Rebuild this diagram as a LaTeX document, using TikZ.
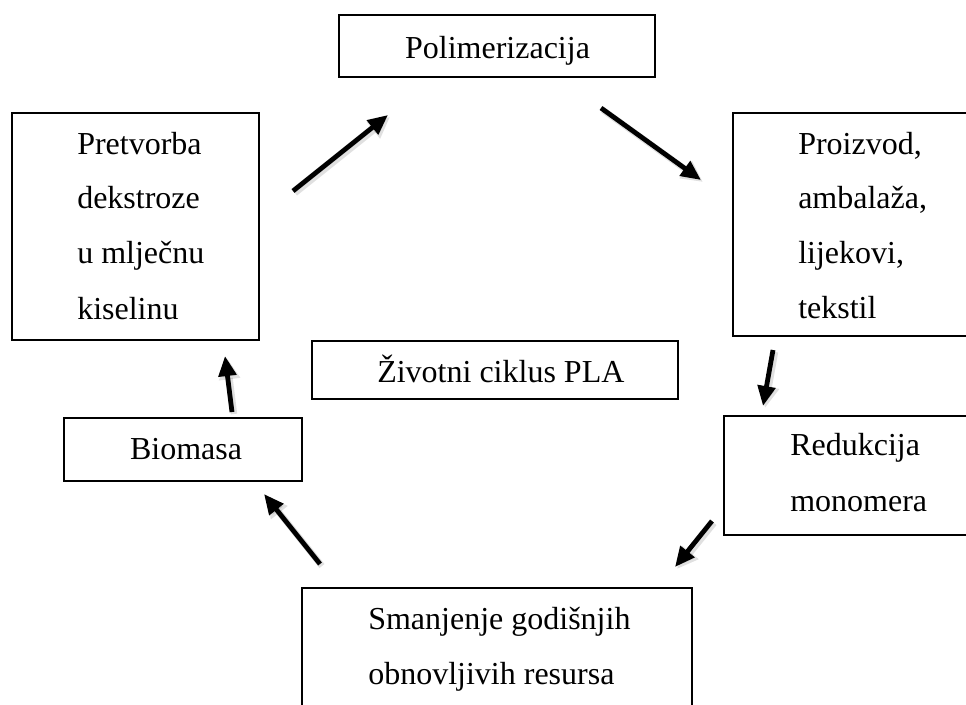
\documentclass[tikz,border=0pt]{standalone}
\usepackage{fontspec}
\setmainfont{Liberation Serif}
\usetikzlibrary{arrows.meta}
\tikzset{
  box/.style={draw=black, line width=1.3pt, fill=none},
  txt/.style={inner sep=0pt, font=\fontsize{24}{29}\selectfont},
  flow/.style={line width=3.6pt, -{Triangle[length=15pt,width=13pt]}, black},
  flowshadow/.style={line width=4.8pt, -{Triangle[length=16pt,width=15pt]}, black, opacity=0.12}
}
\begin{document}
\begin{tikzpicture}[x=0.75pt,y=-0.75pt]
\useasboundingbox (0,0) rectangle (966,704);
\clip (0,0) rectangle (966,704);
\fill[white] (0,0) rectangle (966,704);
% boxes
\draw[box] (339,15) rectangle (655,77);
\node[txt, anchor=base] (poly) at (497.5,58) {Polimerizacija};
\draw[box] (12,113) rectangle (259,340);
\node[txt, anchor=base west] (pre1) at (77,154) {Pretvorba};
\node[txt, anchor=base west] (pre2) at (77,208) {dekstroze};
\node[txt, anchor=base west] (pre3) at (77,263) {u mlječnu};
\node[txt, anchor=base west] (pre4) at (77,319) {kiselinu};
\draw[box] (733,113) rectangle (990,336);
\node[txt, anchor=base west] (pro1) at (798,154) {Proizvod,};
\node[txt, anchor=base west] (pro2) at (798,208) {ambalaža,};
\node[txt, anchor=base west] (pro3) at (798,263) {lijekovi,};
\node[txt, anchor=base west] (pro4) at (798,318) {tekstil};
\draw[box] (312,341) rectangle (678,399);
\node[txt, anchor=base west] (ziv) at (377,382) {Životni ciklus PLA};
\draw[box] (64,418) rectangle (302,481);
\node[txt, anchor=base] (bio) at (186,459) {Biomasa};
\draw[box] (724,416) rectangle (990,535);
\node[txt, anchor=base west] (red1) at (790,455) {Redukcija};
\node[txt, anchor=base west] (red2) at (790,511) {monomera};
\draw[box] (302,588) rectangle (692,720);
\node[txt, anchor=base west] (sma1) at (368,629) {Smanjenje godišnjih};
\node[txt, anchor=base west] (sma2) at (368,684) {obnovljivih resursa};
% arrow end points
\coordinate (a1s) at (293,191); \coordinate (a1e) at (388,115);
\coordinate (a2s) at (601,108); \coordinate (a2e) at (701,180);
\coordinate (a3s) at (773,350); \coordinate (a3e) at (763,406);
\coordinate (a4s) at (712,521); \coordinate (a4e) at (675,567);
\coordinate (a5s) at (320,564); \coordinate (a5e) at (264,494);
\coordinate (a6s) at (232,412); \coordinate (a6e) at (225,356);
% shadows
\foreach \s/\e in {a1s/a1e,a2s/a2e,a3s/a3e,a4s/a4e,a5s/a5e,a6s/a6e}{
  \draw[flowshadow, transform canvas={shift={(1.5pt,-1.5pt)}}] (\s) -- (\e);
}
% arrows
\draw[flow] (a1s) -- (a1e);
\draw[flow] (a2s) -- (a2e);
\draw[flow] (a3s) -- (a3e);
\draw[flow] (a4s) -- (a4e);
\draw[flow] (a5s) -- (a5e);
\draw[flow] (a6s) -- (a6e);
\end{tikzpicture}
\end{document}
